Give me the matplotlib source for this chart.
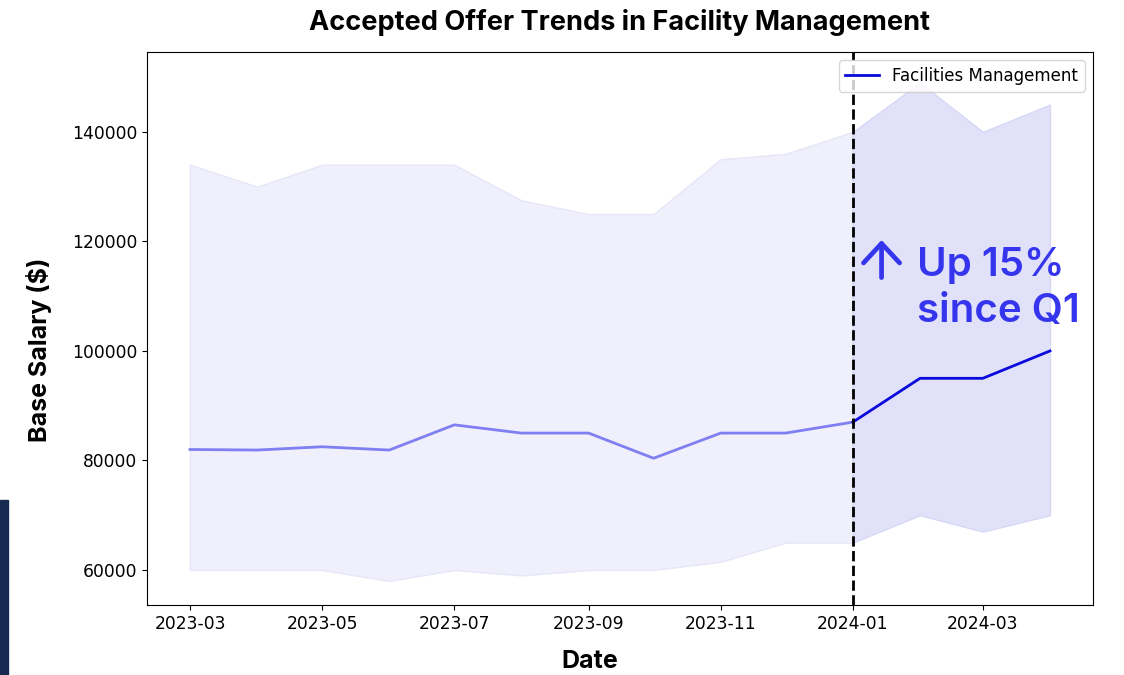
import numpy as np
import pandas as pd
import matplotlib
matplotlib.use('Agg')
import matplotlib.pyplot as plt
import matplotlib.dates as mdates
from matplotlib.patches import Rectangle

# monthly accepted offers, facilities management
months = pd.date_range('2023-03-01', '2024-04-01', freq='MS')
median_salary = [82000, 81900, 82500, 81900, 86500, 85000, 85000, 80400,
                 85000, 85000, 87000, 95000, 95000, 100000]
upper_salary = [134000, 130000, 134000, 134000, 134000, 127500, 125000, 125000,
                135000, 136000, 140000, 149000, 140000, 145000]
lower_salary = [60000, 60000, 60000, 58000, 60000, 59000, 60000, 60000,
                61500, 65000, 65000, 70000, 67000, 70000]
split_date = pd.Timestamp('2024-01-01')
series_name = 'Facilities Management'

plt.rcParams['font.family'] = ['DejaVu Sans']
head_font = ['Inter', 'DejaVu Sans']
accent = '#3535ee'

fig = plt.figure(figsize=(11.24, 6.75), dpi=100)
ax = fig.add_axes([0.1308, 0.1037, 0.8416, 0.8193])

k = list(months).index(split_date)

# before the split (faded)
ax.fill_between(months[:k + 1], lower_salary[:k + 1], upper_salary[:k + 1],
                color='#f0f0fc', edgecolor='#e6e6f8', lw=1)
ax.plot(months[:k + 1], median_salary[:k + 1], color='#7f7ff2', lw=2)

# after the split (highlighted)
ax.fill_between(months[k:], lower_salary[k:], upper_salary[k:],
                color='#e1e1fa', edgecolor='#d8d8f6', lw=1)
ax.plot(months[k:], median_salary[k:], color='#0a0adc', lw=2, label=series_name)

ax.axvline(split_date, color='black', ls='--', lw=2)

ax.set_ylim(53600, 154600)
ax.xaxis.set_major_locator(mdates.MonthLocator(bymonth=[1, 3, 5, 7, 9, 11]))
ax.xaxis.set_major_formatter(mdates.DateFormatter('%Y-%m'))
ax.tick_params(labelsize=12.3)

ax.set_title('Accepted Offer Trends in Facility Management', fontsize=19.5,
             fontweight='bold', family=head_font, pad=16)
ax.set_xlabel('Date', fontsize=18, fontweight='bold', family=head_font)
ax.set_ylabel('Base Salary ($)', fontsize=18, fontweight='bold', family=head_font)
ax.xaxis.set_label_coords(0.468, -0.082)
ax.yaxis.set_label_coords(-0.1, 0.461)

ax.legend(loc='upper right', fontsize=12)

ax.text(0.814, 0.647, 'Up 15%\nsince Q1', transform=ax.transAxes, fontsize=29,
        fontweight='semibold', color=accent, family=head_font, va='top',
        linespacing=1.3)
ax.annotate('', xy=(0.7765, 0.660), xytext=(0.7765, 0.592), xycoords='axes fraction',
            arrowprops=dict(arrowstyle='->,head_length=1.4,head_width=1.3',
                            lw=3.4, color=accent, shrinkA=0, shrinkB=0))

# navy strip in the corner of the slide
fig.patches.append(Rectangle((0, 0), 8 / 1124, 175 / 675, transform=fig.transFigure,
                             color='#172a52', zorder=0))

fig.savefig('out.png', dpi=100)
